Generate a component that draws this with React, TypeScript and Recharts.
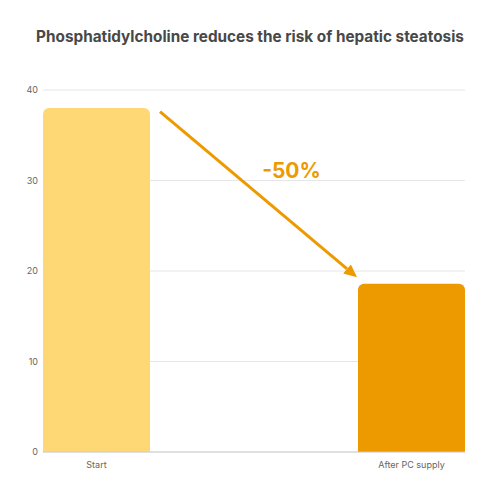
import React from 'react';
import { BarChart, Bar, XAxis, YAxis, CartesianGrid, ReferenceLine, Cell } from 'recharts';

const categories = ['Start', 'After PC supply'];
const riskValues = [38, 18.6];
const barColors = ['#FFD876', '#EC9A00'];
const yTicks = [0, 10, 20, 30, 40];

// arrow annotation, anchored in data space
const arrowFrom = { x: 'Start', y: 37.6 };
const arrowTo = { x: 'After PC supply', y: 19.3 };
const arrowLabel = '-50%';

const data = categories.map((name, i) => ({ name, value: riskValues[i] }));

const BAR_SIZE = 107;
const ORANGE = '#EC9A00';

const Arrow = (props: any) => {
  const { x1, y1, x2, y2 } = props;
  // move the ends off the bar centres to the bar edges
  const sx = x1 + BAR_SIZE / 2 + 10;
  const ex = x2 - BAR_SIZE / 2 - 1;
  const sy = y1;
  const ey = y2;
  const ang = Math.atan2(ey - sy, ex - sx);
  const head = 13;
  const w = 6;
  const bx = ex - head * Math.cos(ang);
  const by = ey - head * Math.sin(ang);
  const px = -Math.sin(ang) * w;
  const py = Math.cos(ang) * w;
  const mx = (sx + ex) / 2;
  const my = (sy + ey) / 2;
  return (
    <g>
      <line x1={sx} y1={sy} x2={bx} y2={by} stroke={ORANGE} strokeWidth={3} />
      <polygon points={`${ex},${ey} ${bx + px},${by + py} ${bx - px},${by - py}`} fill={ORANGE} />
      <text
        x={mx + 33}
        y={my - 24}
        textAnchor="middle"
        dominantBaseline="central"
        fill={ORANGE}
        fontSize={21}
        fontWeight={700}
        fontFamily="Inter, 'Open Sans', sans-serif"
      >
        {arrowLabel}
      </text>
    </g>
  );
};

export default function App() {
  return (
    <div style={{ position: 'absolute', left: 0, top: 0, width: 500, height: 500, background: '#fff', fontFamily: "Inter, 'Open Sans', sans-serif" }}>
      <div
        style={{
          position: 'absolute',
          top: 27,
          left: 0,
          width: 500,
          textAlign: 'center',
          fontSize: 15.3,
          fontWeight: 700,
          color: '#484848',
        }}
      >
        Phosphatidylcholine reduces the risk of hepatic steatosis
      </div>
      <BarChart width={500} height={500} data={data} margin={{ top: 90, right: 35, bottom: 18, left: 0 }}>
        <CartesianGrid vertical={false} stroke="#e6e6e6" />
        <XAxis
          dataKey="name"
          scale="point"
          padding={{ left: BAR_SIZE / 2, right: BAR_SIZE / 2 }}
          height={30}
          tickLine={false}
          axisLine={{ stroke: '#cccccc' }}
          tick={{ fill: '#666', fontSize: 9 }}
          tickMargin={4}
        />
        <YAxis
          width={43}
          domain={[0, 40]}
          ticks={yTicks}
          axisLine={false}
          tickLine={false}
          tick={{ fill: '#666', fontSize: 9 }}
          tickMargin={-1}
        />
        <Bar dataKey="value" barSize={BAR_SIZE} radius={[6, 6, 0, 0]} isAnimationActive={false}>
          {data.map((d, i) => (
            <Cell key={d.name} fill={barColors[i]} />
          ))}
        </Bar>
        <ReferenceLine segment={[arrowFrom, arrowTo]} shape={Arrow} ifOverflow="visible" />
      </BarChart>
    </div>
  );
}
